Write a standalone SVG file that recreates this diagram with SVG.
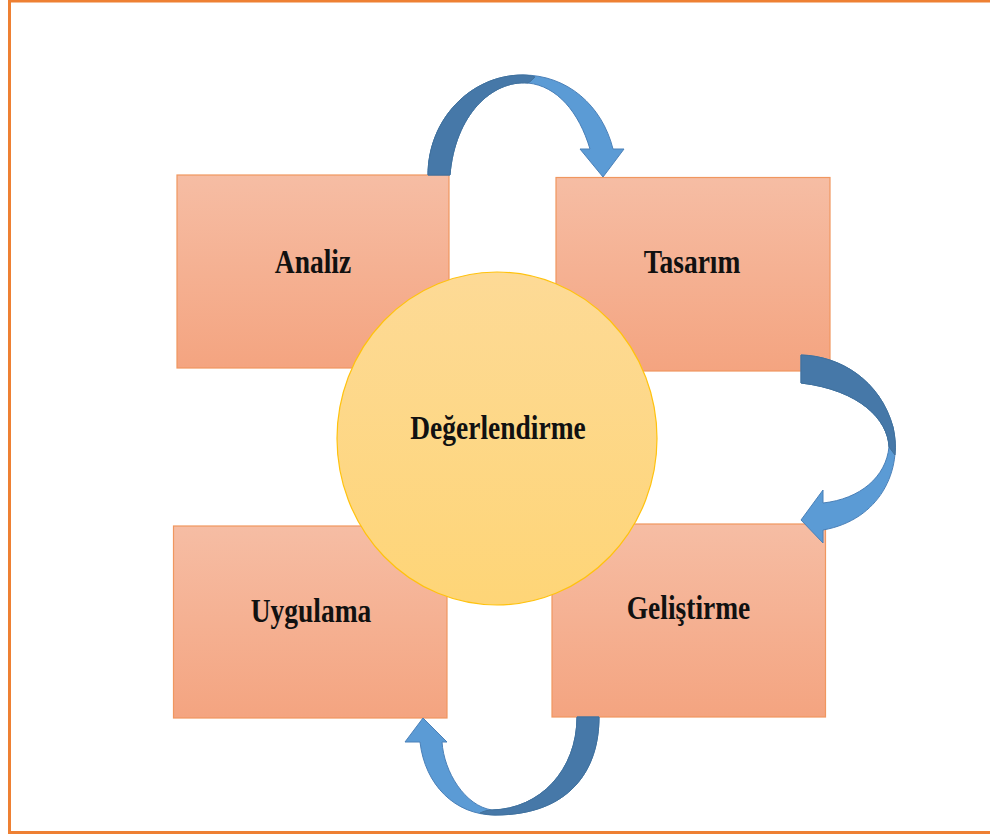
<svg xmlns="http://www.w3.org/2000/svg" width="990" height="836" viewBox="0 0 990 836">
  <defs>
    <linearGradient id="boxFill" x1="0" y1="0" x2="0" y2="1">
      <stop offset="0" stop-color="#F6BDA4"/>
      <stop offset="1" stop-color="#F4A480"/>
    </linearGradient>
    <linearGradient id="circleFill" x1="0" y1="0" x2="0" y2="1">
      <stop offset="0" stop-color="#FDDA96"/>
      <stop offset="1" stop-color="#FED577"/>
    </linearGradient>
    <style>
      .box { fill: url(#boxFill); stroke: #F0975F; stroke-width: 1.2; }
      .hub { fill: url(#circleFill); stroke: #FFC20E; stroke-width: 1.2; }
      .label { font-family: "Liberation Serif", "Times New Roman", serif; font-weight: bold; font-size: 27.5px; fill: #111111; text-anchor: middle; }
      .arrow-front { fill: #5B9BD5; stroke: #4A80B8; stroke-width: 1; stroke-linejoin: round; }
      .arrow-back { fill: #4678A8; stroke: #41719C; stroke-width: 1; stroke-linejoin: round; }
    </style>
  </defs>

  <rect x="0" y="0" width="990" height="836" fill="#FFFFFF"/>
  <!-- page frame -->
  <rect x="9.5" y="1" width="1000" height="831.5" fill="none" stroke="#EE8033" stroke-width="3"/>

  <g id="analiz">
    <rect class="box" x="177" y="175" width="272" height="193"/>
    <text class="label" transform="translate(313,273) scale(1,1.22)">Analiz</text>
  </g>

  <g id="tasarim">
    <rect class="box" x="556" y="177.5" width="274" height="193.5"/>
    <text class="label" transform="translate(692,273) scale(1,1.22)">Tasarım</text>
  </g>

  <g id="uygulama">
    <rect class="box" x="173.5" y="526" width="273.5" height="192"/>
    <text class="label" transform="translate(311,621.5) scale(1,1.22)">Uygulama</text>
  </g>

  <g id="gelistirme">
    <rect class="box" x="552" y="524" width="273.5" height="193"/>
    <text class="label" transform="translate(688.5,619) scale(1,1.22)">Geliştirme</text>
  </g>

  <g id="degerlendirme">
    <ellipse class="hub" cx="497" cy="438.5" rx="160" ry="166.5"/>
    <text class="label" transform="translate(498,438.5) scale(1,1.22)">Değerlendirme</text>
  </g>

  <g id="connectors">
    <!-- Analiz to Tasarım, over the top -->
    <path class="arrow-front" d="M428,175 C428,120 470,75 523,75 C567,75 602,105 613,149 L624,149 L603,177 L580,149 L590,149 C579,112 557,86 528,83 C492,80 455,115 450,175 Z"/>
    <path class="arrow-back" d="M428,175 C428,120 470,75 523,75 C528,75 532,76 535,77 C532,80 530,82 528,83 C492,80 455,115 450,175 Z"/>

    <!-- Tasarım to Geliştirme, round the right side -->
    <path class="arrow-front" d="M801,355 C840,356 880,380 893,427 C903,470 880,520 823,530 L823,543 L801,520 L823,490 L823,503 C860,499 886,477 889,447 C888,420 860,390 801,383 Z"/>
    <path class="arrow-back" d="M801,355 C840,356 880,380 893,427 C895,437 896,445 895,455 C893,452 891,450 889,447 C888,420 860,390 801,383 Z"/>

    <!-- Geliştirme to Uygulama, under the bottom -->
    <path class="arrow-front" d="M599,717 C599,770 570,815 495,815 C455,815 425,785 420,742 L405,742 L423,718 L447,742 L442,742 C444,772 465,806 492,810 C540,809 577,770 577,717 Z"/>
    <path class="arrow-back" d="M599,717 C599,770 570,815 495,815 C490,815 485,814 480,813 C484,811 488,810 492,810 C540,809 577,770 577,717 Z"/>
  </g>
</svg>
